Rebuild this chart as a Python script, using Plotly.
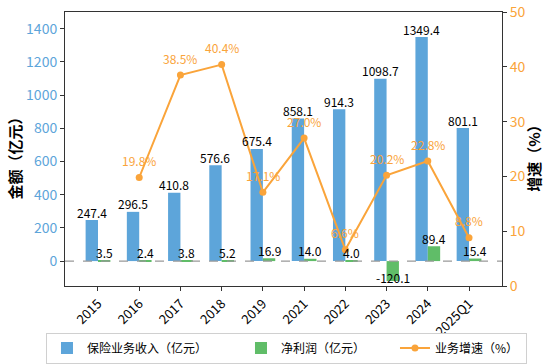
import plotly.graph_objects as go

categories = ["2015", "2016", "2017", "2018", "2019", "2021", "2022", "2023", "2024", "2025Q1"]
revenue = [247.4, 296.5, 410.8, 576.6, 675.4, 858.1, 914.3, 1098.7, 1349.4, 801.1]
profit = [3.5, 2.4, 3.8, 5.2, 16.9, 14.0, 4.0, -120.1, 89.4, 15.4]
growth = [None, 19.8, 38.5, 40.4, 17.1, 27.0, 6.6, 20.2, 22.8, 8.8]

BLUE = "#5DA5DA"
GREEN = "#60BD68"
ORANGE = "#FAA43A"
FONT = "Noto Sans CJK SC"

idx = list(range(len(categories)))
BAR_W = 0.3

fig = go.Figure()
fig.add_trace(go.Bar(x=idx, y=revenue, name="保险业务收入（亿元）", marker_color=BLUE,
                     marker_line_width=0, offsetgroup="a", legendwidth=149))
fig.add_trace(go.Bar(x=idx, y=profit, name="净利润（亿元）", marker_color=GREEN,
                     marker_line_width=0, offsetgroup="b", legendwidth=109))
fig.add_trace(go.Scatter(x=idx, y=growth, name="业务增速（%）", yaxis="y2", mode="lines+markers",
                         line=dict(color=ORANGE, width=2), marker=dict(color=ORANGE, size=7),
                         connectgaps=False, legendwidth=86))

ann = []
for i, v in zip(idx, revenue):
    ann.append(dict(x=i - BAR_W / 2, y=v, text=f"{v:.1f}", showarrow=False, yanchor="middle",
                    yshift=8, font=dict(size=12, color="black", family=FONT)))
for i, v in zip(idx, profit):
    ann.append(dict(x=i + BAR_W / 2, y=v, text=f"{v:.1f}", showarrow=False, yanchor="middle",
                    yshift=8 if v >= 0 else 4, font=dict(size=12, color="black", family=FONT)))
for i, v in zip(idx, growth):
    if v is None:
        continue
    ann.append(dict(x=i, y=v, yref="y2", text=f"{v:.1f}%", showarrow=False, yanchor="middle",
                    yshift=17, font=dict(size=12, color=ORANGE, family=FONT)))

# axis titles
ann.append(dict(xref="paper", yref="paper", x=-0.1145, y=0.48, text="<b>金额（亿元）</b>",
                textangle=-90, showarrow=False, xanchor="center", yanchor="middle",
                font=dict(size=15, color="black", family=FONT)))
ann.append(dict(xref="paper", yref="paper", x=1.0717, y=0.48, text="<b>增速（%）</b>",
                textangle=-90, showarrow=False, xanchor="center", yanchor="middle",
                font=dict(size=15, color="black", family=FONT)))

fig.update_layout(
    width=550, height=364,
    margin=dict(l=65, r=48, t=12, b=78, autoexpand=False),
    plot_bgcolor="white", paper_bgcolor="white",
    font=dict(family=FONT, size=12, color="black"),
    barmode="group", bargap=0.4, bargroupgap=0,
    annotations=ann,
    xaxis=dict(range=[-0.8, 9.8], tickmode="array", tickvals=idx, ticktext=categories,
               tickangle=-45, tickfont=dict(size=13, color="black"), ticks="outside", ticklen=4,
               tickcolor="#333", showline=True, linecolor="#333", linewidth=1, mirror=True,
               showgrid=False, zeroline=False, automargin=False),
    yaxis=dict(range=[-150, 1500], tickvals=[0, 200, 400, 600, 800, 1000, 1200, 1400],
               tickfont=dict(size=14, color=BLUE), ticks="outside", ticklen=4, tickcolor="#333",
               showline=True, linecolor="#333", linewidth=1, showgrid=False, zeroline=False,
               automargin=False),
    yaxis2=dict(range=[0, 50], overlaying="y", side="right", tickvals=[0, 10, 20, 30, 40, 50],
                tickfont=dict(size=14, color=ORANGE), ticks="outside", ticklen=4, tickcolor="#333",
                showline=True, linecolor="#333", linewidth=1, showgrid=False, zeroline=False,
                automargin=False),
    legend=dict(orientation="h", x=-0.0435, xanchor="left", y=-0.17, yanchor="top",
                bordercolor="#d0d0d0", borderwidth=1, font=dict(size=12),
                itemwidth=30, traceorder="normal"),
    shapes=[dict(type="line", xref="paper", x0=0, x1=1, yref="y", y0=0, y1=0,
                 line=dict(color="#999", width=1.2, dash="dash"), layer="above")],
)

fig.write_html("out.html", config={"displayModeBar": False},
               post_script="document.body.style.margin='0';")
